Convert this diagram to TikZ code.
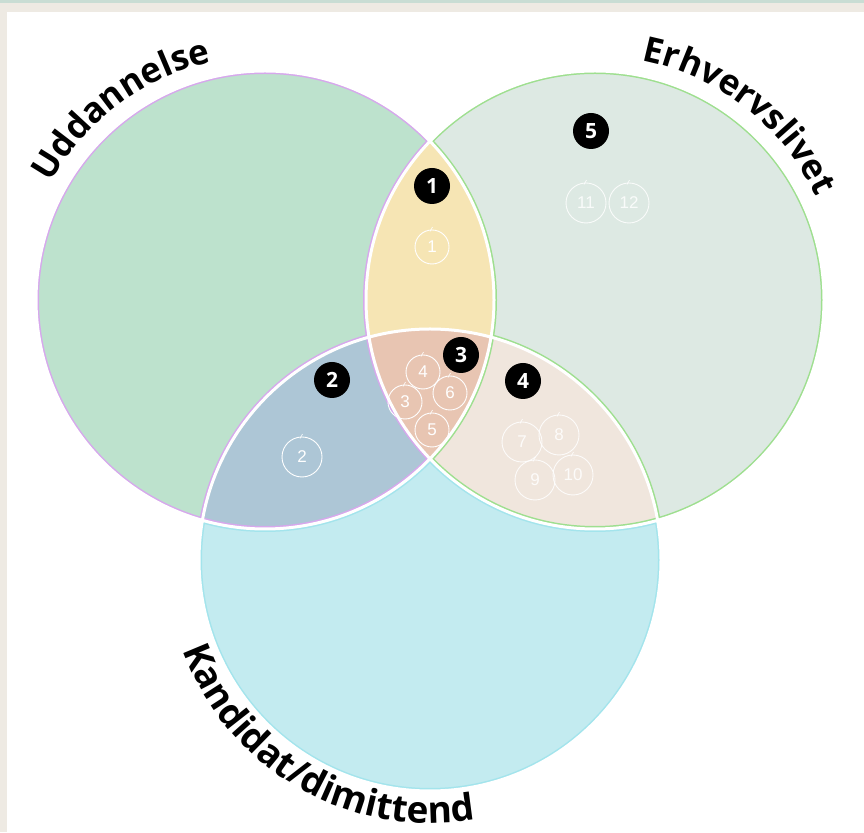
\documentclass[tikz,border=0pt]{standalone}
\usepackage{fontspec}
\setmainfont{Open Sans}
\newfontfamily\handfont{Liberation Sans}
\usetikzlibrary{decorations.text}
\definecolor{mintL}{HTML}{BDE2CD}
\definecolor{grayR}{HTML}{DDE9E3}
\definecolor{cyanB}{HTML}{C3EBF0}
\definecolor{yelLR}{HTML}{F6E5B4}
\definecolor{bluLB}{HTML}{ADC6D6}
\definecolor{salLRB}{HTML}{E8C5B2}
\definecolor{begRB}{HTML}{F0E6DD}
\definecolor{purpleL}{HTML}{D6A8EC}
\definecolor{greenR}{HTML}{9EDF8F}
\definecolor{cyanline}{HTML}{A3E4EC}
\definecolor{frame}{HTML}{EEEAE3}
\definecolor{topstrip}{HTML}{C9DDD4}
\begin{document}
\begin{tikzpicture}[x=1pt,y=1pt,
  badge/.style={circle,fill=black,text=white,minimum size=36pt,inner sep=0pt,
    font=\bfseries\fontsize{21}{21}\selectfont},
  hand/.style={circle,draw=white,line width=0.9pt,text=white,inner sep=0pt,
    font=\handfont\fontsize{17}{17}\selectfont},
  handS/.style={hand,minimum size=34pt},
  handL/.style={hand,minimum size=40pt},
  labelpath/.style 2 args={decorate,decoration={text along path,text align=center,
    text={|\bfseries\fontsize{#1}{40}\selectfont|#2}}}]
\useasboundingbox (0,0) rectangle (864,832);
% frame
\fill[frame] (0,0) rectangle (864,832);
\fill[topstrip] (0,829) rectangle (864,832);
\fill[white] (7,0) rectangle (864,820);
% centres
\coordinate (cL) at (265,532);
\coordinate (cR) at (595,532);
\coordinate (cB) at (430,272);
\def\rL{229}\def\rR{229}\def\rB{231}
% base fills
\fill[mintL] (cL) circle[radius=\rL];
\fill[grayR] (cR) circle[radius=\rR];
\fill[cyanB] (cB) circle[radius=\rB];
\begin{scope}\clip (cL) circle[radius=\rL]; \fill[yelLR] (cR) circle[radius=\rR];\end{scope}
\begin{scope}\clip (cL) circle[radius=\rL]; \fill[bluLB] (cB) circle[radius=\rB];\end{scope}
\begin{scope}\clip (cR) circle[radius=\rR]; \fill[begRB] (cB) circle[radius=\rB];\end{scope}
\begin{scope}\clip (cL) circle[radius=\rL]; \clip (cR) circle[radius=\rR];
  \fill[salLRB] (cB) circle[radius=\rB];\end{scope}
% coloured inset outlines
\begin{scope}[even odd rule]\clip (cL) circle[radius=\rL];
  \clip (0,0) rectangle (864,832) (cR) circle[radius=\rR];
  \draw[purpleL,line width=6pt] (cL) circle[radius=\rL] (cR) circle[radius=\rR];
\end{scope}
\begin{scope}[even odd rule]\clip (cL) circle[radius=\rL];
  \clip (0,0) rectangle (864,832) (cR) circle[radius=\rR];
  \clip (0,0) rectangle (864,832) (cB) circle[radius=\rB];
  \draw[purpleL,line width=6pt] (cB) circle[radius=\rB];
\end{scope}
\begin{scope}[even odd rule]\clip (cR) circle[radius=\rR];
  \clip (0,0) rectangle (864,832) (cL) circle[radius=\rL];
  \draw[greenR,line width=6pt] (cL) circle[radius=\rL] (cR) circle[radius=\rR];
\end{scope}
\begin{scope}[even odd rule]\clip (cR) circle[radius=\rR];
  \clip (0,0) rectangle (864,832) (cL) circle[radius=\rL];
  \clip (0,0) rectangle (864,832) (cB) circle[radius=\rB];
  \draw[greenR,line width=6pt] (cB) circle[radius=\rB];
\end{scope}
\begin{scope}[even odd rule]\clip (cB) circle[radius=\rB];
  \clip (0,0) rectangle (864,832) (cL) circle[radius=\rL];
  \clip (0,0) rectangle (864,832) (cR) circle[radius=\rR];
  \draw[cyanline,line width=6pt] (cB) circle[radius=\rB] (cL) circle[radius=\rL] (cR) circle[radius=\rR];
\end{scope}
% white gaps
\draw[white,line width=3pt] (cL) circle[radius=\rL] (cR) circle[radius=\rR] (cB) circle[radius=\rB];
% curved labels
\path[labelpath={35}{Uddannelse}] (cL) ++(170:244) arc[start angle=170,end angle=84,radius=244];
\path[labelpath={35}{Erhvervslivet}] (cR) ++(100:244) arc[start angle=100,end angle=4,radius=244];
\path[labelpath={37}{Kandidat/dimittend}] (cB) ++(188:263) arc[start angle=188,end angle=292,radius=263];
% black badges
\node[badge] (b1) at (432,646) {1};
\node[badge] (b2) at (332,452) {2};
\node[badge] (b3) at (461,477) {3};
\node[badge] (b4) at (523,451) {4};
\node[badge] (b5) at (591,701) {5};
% hand-drawn circles
\node[handS] (h1) at (432,585) {1};
\node[handL] (h2) at (302,375) {2};
\node[handS] (h3) at (405,430) {3};
\node[handS] (h4) at (423,460) {4};
\node[handS] (h5) at (432,402) {5};
\node[handS] (h6) at (450,439) {6};
\node[handL,draw opacity=.85,text opacity=.85] (h7) at (522,390) {7};
\node[handL,draw opacity=.85,text opacity=.85] (h8) at (559,397) {8};
\node[handL,draw opacity=.85,text opacity=.85] (h9) at (535,352) {9};
\node[handL,draw opacity=.85,text opacity=.85] (h10) at (573,357) {10};
\node[handL,draw opacity=.85,text opacity=.85] (h11) at (586,629) {11};
\node[handL,draw opacity=.85,text opacity=.85] (h12) at (629,629) {12};
\foreach \h in {h1,h2,h3,h4,h5,h6,h7,h8,h9,h10,h11,h12}
  \draw[white,line width=0.7pt,opacity=.85] ([xshift=-2pt,yshift=-2pt]\h.north) -- ++(2.5,4.5);
\end{tikzpicture}
\end{document}
